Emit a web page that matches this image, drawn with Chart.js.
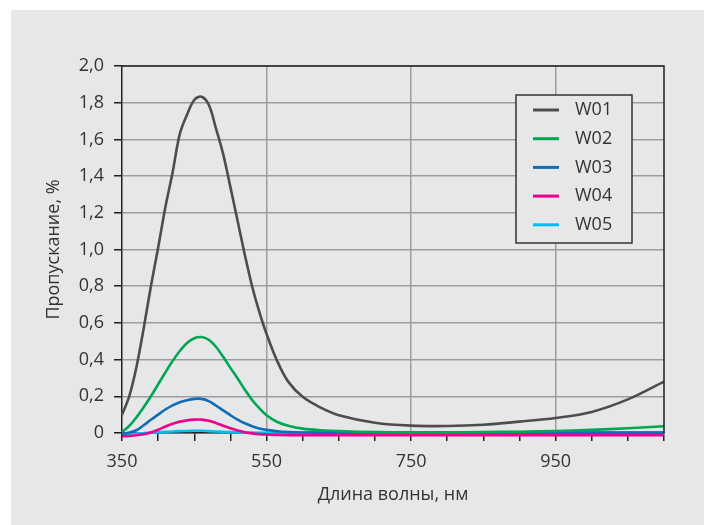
<!DOCTYPE html>
<html>
<head>
<meta charset="utf-8">
<script src="https://cdn.jsdelivr.net/npm/chart.js@4.4.1/dist/chart.umd.min.js"></script>
<style>
  html, body { margin: 0; padding: 0; background: #ffffff; }
  #wrap { position: relative; width: 704px; height: 525px; }
</style>
</head>
<body>
<div id="wrap"><canvas id="chart"></canvas></div>
<script>
// wavelengths, nm
const wavelengths = [350, 360, 370, 380, 390, 400, 410, 420, 430, 440, 450, 460, 470, 480, 490, 500,
  510, 520, 530, 540, 550, 565, 580, 600, 625, 650, 700, 750, 800, 850, 900, 950, 1000, 1050, 1100];

// transmission, %
const w01 = [0.10, 0.20, 0.36, 0.57, 0.80, 1.01, 1.23, 1.42, 1.63, 1.735, 1.815, 1.833, 1.79, 1.66, 1.52, 1.34,
  1.155, 0.97, 0.80, 0.66, 0.54, 0.39, 0.28, 0.197, 0.138, 0.097, 0.056, 0.04, 0.038, 0.045, 0.062, 0.082, 0.115, 0.183, 0.28];
const w02 = [0.005, 0.038, 0.085, 0.14, 0.20, 0.265, 0.33, 0.392, 0.447, 0.49, 0.516, 0.523, 0.508, 0.47, 0.415, 0.355,
  0.297, 0.236, 0.18, 0.135, 0.097, 0.06, 0.04, 0.024, 0.015, 0.01, 0.005, 0.003, 0.003, 0.005, 0.007, 0.011, 0.017, 0.026, 0.037];
const w03 = [-0.005, 0.002, 0.015, 0.042, 0.072, 0.10, 0.128, 0.151, 0.168, 0.179, 0.186, 0.186, 0.174, 0.15, 0.123, 0.097,
  0.073, 0.053, 0.037, 0.025, 0.017, 0.009, 0.005, 0.003, 0.002, 0.002, 0.002, 0.002, 0.002, 0.002, 0.002, 0.002, 0.002, 0.002, 0.002];
const w04 = [-0.018, -0.016, -0.012, -0.007, 0.003, 0.018, 0.035, 0.05, 0.062, 0.069, 0.073, 0.073, 0.067, 0.055, 0.04, 0.026,
  0.013, 0.004, -0.002, -0.006, -0.008, -0.011, -0.012, -0.012, -0.012, -0.012, -0.012, -0.012, -0.012, -0.012, -0.012, -0.012, -0.012, -0.012, -0.012];
const w05 = [-0.004, -0.003, -0.002, 0.000, 0.002, 0.004, 0.006, 0.008, 0.010, 0.011, 0.012, 0.012, 0.010, 0.008, 0.006, 0.005,
  0.003, 0.002, 0.002, 0.001, 0.001, 0.002, 0.002, 0.003, 0.003, 0.003, 0.003, 0.003, 0.003, 0.003, 0.003, 0.003, 0.003, 0.003, 0.003];

const seriesNames = ['W01', 'W02', 'W03', 'W04', 'W05'];
const seriesValues = [w01, w02, w03, w04, w05];
const seriesColors = ['#4d4d4f', '#00a651', '#0f6cb6', '#ec008c', '#00bdf2'];

const xGridAt = [550, 750, 950];
const xLabelAt = [350, 550, 750, 950];

const FONT = '"Open Sans", Lato, sans-serif';
const FSIZE = 18;
const TEXT = '#333333';
const AXIS = '#231f20';
const GRID = '#9d9d9f';

// grey panel behind everything
const panelPlugin = {
  id: 'panel',
  beforeDraw(chart) {
    const ctx = chart.ctx;
    ctx.save();
    ctx.fillStyle = '#e6e7e8';
    ctx.fillRect(11, 10, chart.width - 11, chart.height - 10);
    ctx.restore();
  }
};

// top and right edge of the plot box + framed legend
const frameLegendPlugin = {
  id: 'frameLegend',
  afterDraw(chart) {
    const ctx = chart.ctx;
    const a = chart.chartArea;
    ctx.save();
    ctx.strokeStyle = AXIS;
    ctx.lineWidth = 1.5;
    ctx.beginPath();
    ctx.moveTo(a.left, a.top);
    ctx.lineTo(a.right, a.top);
    ctx.lineTo(a.right, a.bottom);
    ctx.stroke();

    // legend box
    const bx = a.right - 148, by = a.top + 29, bw = 116, bh = 148;
    ctx.fillStyle = '#e6e7e8';
    ctx.fillRect(bx, by, bw, bh);
    ctx.strokeStyle = '#333333';
    ctx.lineWidth = 1.5;
    ctx.strokeRect(bx, by, bw, bh);

    ctx.font = FSIZE + 'px ' + FONT;
    ctx.textBaseline = 'middle';
    ctx.fillStyle = TEXT;
    chart.data.datasets.forEach((ds, i) => {
      const y = by + 15 + i * 28.7;
      ctx.strokeStyle = ds.borderColor;
      ctx.lineWidth = 3;
      ctx.beginPath();
      ctx.moveTo(bx + 17, y);
      ctx.lineTo(bx + 43, y);
      ctx.stroke();
      ctx.fillText(ds.label, bx + 59, y);
    });
    ctx.restore();
  }
};

const datasets = seriesNames.map((name, i) => ({
  label: name,
  data: wavelengths.map((w, j) => ({ x: w, y: seriesValues[i][j] })),
  borderColor: seriesColors[i],
  backgroundColor: seriesColors[i],
  borderWidth: 2.6,
  pointRadius: 0,
  tension: 0.35,
  clip: 6
}));

new Chart(document.getElementById('chart'), {
  type: 'line',
  data: { datasets },
  plugins: [panelPlugin, frameLegendPlugin],
  options: {
    responsive: true,
    maintainAspectRatio: false,
    animation: false,
    layout: { padding: { left: 43, top: 66, right: 40, bottom: 19 } },
    plugins: {
      legend: { display: false },
      tooltip: { enabled: false }
    },
    scales: {
      x: {
        type: 'linear',
        min: 350,
        max: 1100,
        afterFit(scale) { scale.height = 73; },
        border: { color: AXIS, width: 1.5 },
        grid: {
          color: ctx => xGridAt.includes(ctx.tick && ctx.tick.value) ? GRID : 'rgba(0,0,0,0)',
          tickColor: AXIS,
          tickLength: 8,
          lineWidth: 1.5
        },
        ticks: {
          stepSize: 50,
          autoSkip: false,
          maxRotation: 0,
          padding: 10,
          color: TEXT,
          font: { family: FONT, size: FSIZE },
          callback: v => xLabelAt.includes(v) ? String(v) : ''
        },
        title: {
          display: true,
          text: 'Длина волны, нм',
          color: TEXT,
          font: { family: FONT, size: FSIZE },
          padding: 0
        }
      },
      y: {
        min: 0,
        max: 2,
        afterFit(scale) { scale.width = 79; },
        border: { color: AXIS, width: 1.5 },
        grid: {
          color: GRID,
          tickColor: AXIS,
          tickLength: 8,
          lineWidth: 1.5
        },
        ticks: {
          stepSize: 0.2,
          padding: 10,
          color: TEXT,
          font: { family: FONT, size: FSIZE },
          callback: v => Math.abs(v) < 1e-9 ? '0' : v.toFixed(1).replace('.', ',')
        },
        title: {
          display: true,
          text: 'Пропускание, %',
          color: TEXT,
          font: { family: FONT, size: FSIZE },
          padding: 0
        }
      }
    }
  }
});
</script>
</body>
</html>
